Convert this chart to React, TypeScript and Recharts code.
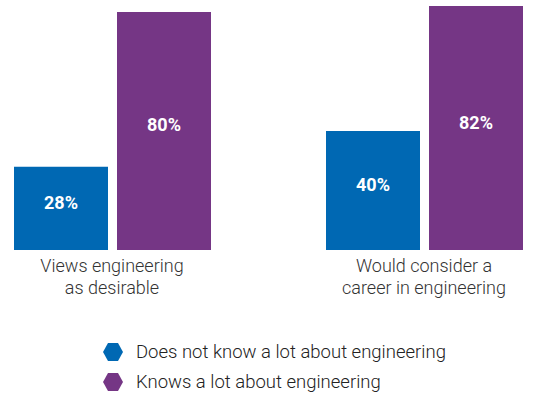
import { BarChart, Bar, XAxis, YAxis, LabelList } from 'recharts';

const categories = ['Views engineering|as desirable', 'Would consider a|career in engineering'];
const doesNotKnow = [28, 40];
const knowsALot = [80, 82];
const seriesNames = ['Does not know a lot about engineering', 'Knows a lot about engineering'];
const colors = ['#0068b3', '#753685'];

const data = categories.map((c, i) => ({
  category: c,
  notKnow: doesNotKnow[i],
  knows: knowsALot[i],
}));

const FONT = 'Roboto, "Open Sans", sans-serif';

const CategoryTick = (props: any) => {
  const { x, y, payload } = props;
  const lines = String(payload.value).split('|');
  return (
    <text x={x} y={y} textAnchor="middle" fill="#333" fontSize={18} fontWeight={300} fontFamily={FONT}>
      {lines.map((line, i) => (
        <tspan key={i} x={x} dy={i === 0 ? 14 : 22}>
          {line}
        </tspan>
      ))}
    </text>
  );
};

const ValueLabel = (props: any) => {
  const { x, y, width, height, value } = props;
  return (
    <text
      x={x + width / 2}
      y={y + height / 2 - 6}
      textAnchor="middle"
      dominantBaseline="central"
      fill="#fff"
      fontSize={18}
      fontWeight={700}
      fontFamily={FONT}
    >
      {value}%
    </text>
  );
};

const Hexagon = ({ color }: { color: string }) => (
  <svg width={20} height={20} viewBox="0 0 20 20" style={{ display: 'block' }}>
    <polygon points="0,10 5,1 15,1 20,10 15,19 5,19" fill={color} />
  </svg>
);

const App = () => {
  return (
    <div style={{ position: 'absolute', left: 0, top: 0, width: 544, height: 396, background: '#fff', fontFamily: FONT }}>
      <BarChart
        width={544}
        height={396}
        data={data}
        margin={{ top: 6, right: -36, bottom: 116, left: -44 }}
        barGap={9}
        barSize={94}
      >
        <XAxis dataKey="category" axisLine={false} tickLine={false} tick={<CategoryTick />} interval={0} height={30} />
        <YAxis hide domain={[0, 82]} />
        <Bar dataKey="notKnow" fill={colors[0]} isAnimationActive={false}>
          <LabelList dataKey="notKnow" content={<ValueLabel />} />
        </Bar>
        <Bar dataKey="knows" fill={colors[1]} isAnimationActive={false}>
          <LabelList dataKey="knows" content={<ValueLabel />} />
        </Bar>
      </BarChart>
      <div style={{ position: 'absolute', left: 103, top: 337 }}>
        {seriesNames.map((name, i) => (
          <div key={name} style={{ display: 'flex', alignItems: 'center', height: 30 }}>
            <Hexagon color={colors[i]} />
            <span style={{ marginLeft: 13, fontSize: 18.5, fontWeight: 300, color: '#222' }}>{name}</span>
          </div>
        ))}
      </div>
    </div>
  );
};

export default App;
